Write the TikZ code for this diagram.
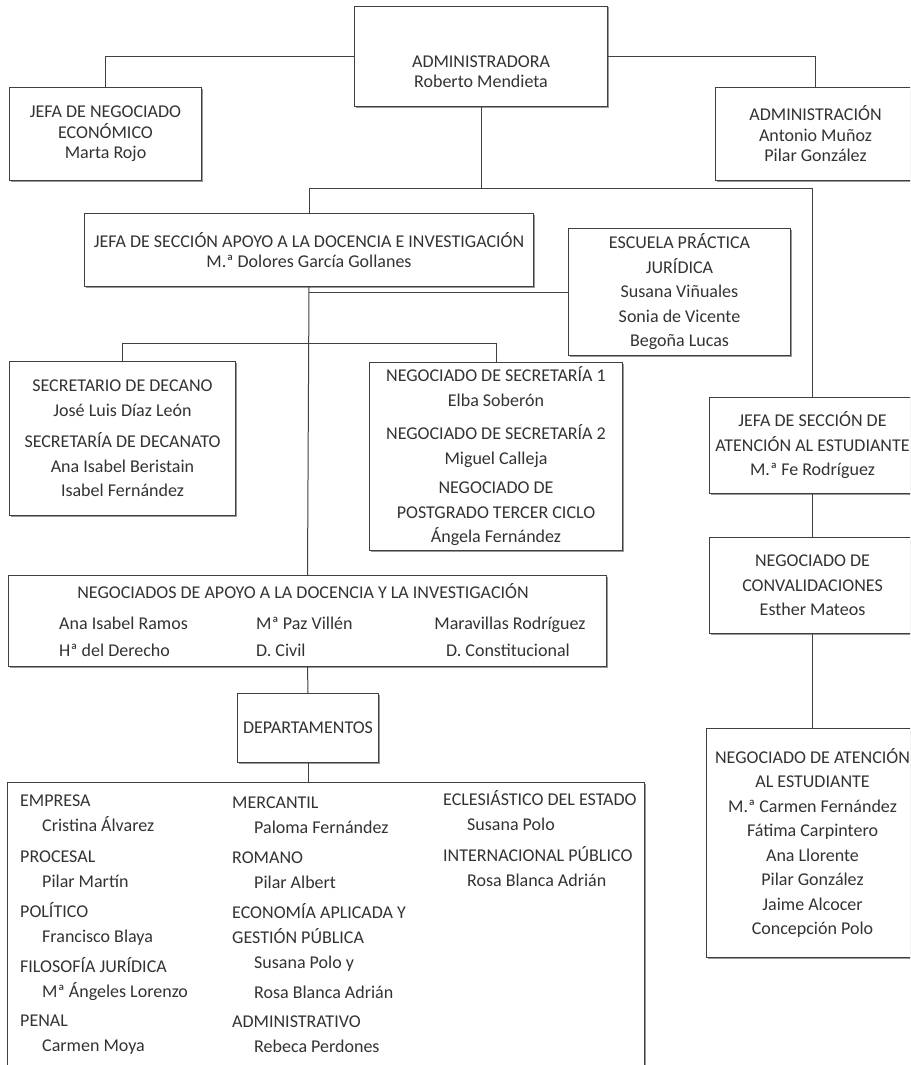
\documentclass[tikz,border=0pt]{standalone}
\usepackage{fontspec}
\setmainfont{Carlito}
\usetikzlibrary{shadows}

\begin{document}
\begin{tikzpicture}[x=1pt,y=-1pt,
  box/.style={draw=black!75, line width=1pt, fill=white, inner sep=0pt, anchor=north west,
    drop shadow={shadow xshift=1pt,shadow yshift=-1pt,fill=black!40,opacity=1}},
  txt/.style={text=black!80, align=center, font=\fontsize{18}{24.5}\selectfont},
  toptxt/.style={txt, font=\fontsize{18}{20.5}\selectfont},
  cell/.style={txt, inner sep=0pt},
  lst/.style={text=black!80, align=left, anchor=base west, inner sep=0pt, font=\fontsize{18}{25}\selectfont},
  link/.style={draw=black!75, line width=1pt}]

\useasboundingbox (0,0) rectangle (910,1065);
\fill[white] (0,0) rectangle (910,1065);
\clip (0,0) rectangle (910,1065);
%\draw[very thin,color=lightgray] (0,0) grid[step=50] (910,1065);

\coordinate (bus1) at (0,188);
\coordinate (bus2) at (0,343);

% top row
\node[box, minimum width=253pt, minimum height=100pt] (adm) at (354,6) {};
\node[toptxt, yshift=-15pt] (admtxt) at (adm.center) {ADMINISTRADORA\\Roberto Mendieta};
\node[box, toptxt, minimum width=192pt, minimum height=93pt] (econ) at (9,87)
  {JEFA DE NEGOCIADO\\ECONÓMICO\\Marta Rojo};
\node[box, toptxt, minimum width=200pt, minimum height=93pt] (admon) at (715,87)
  {ADMINISTRACIÓN\\Antonio Muñoz\\Pilar González};

% docencia e investigacion
\node[box, toptxt, minimum width=449pt, minimum height=73pt] (apoyo) at (84,213)
  {JEFA DE SECCIÓN APOYO A LA DOCENCIA E INVESTIGACIÓN\\M.ª Dolores García Gollanes};
\node[box, txt, minimum width=222pt, minimum height=127pt] (escuela) at (568,228)
  {ESCUELA PRÁCTICA\\JURÍDICA\\Susana Viñuales\\Sonia de Vicente\\Begoña Lucas};
\node[box, txt, minimum width=226pt, minimum height=154pt] (secdec) at (9,361)
  {SECRETARIO DE DECANO\\José Luis Díaz León\\[7pt]SECRETARÍA DE DECANATO\\Ana Isabel Beristain\\Isabel Fernández};
\node[box, txt, minimum width=253pt, minimum height=188pt] (negsec) at (369,362)
  {NEGOCIADO DE SECRETARÍA 1\\Elba Soberón\\[9pt]NEGOCIADO DE SECRETARÍA 2\\Miguel Calleja\\[5pt]NEGOCIADO DE\\POSTGRADO TERCER CICLO\\Ángela Fernández};

% atencion al estudiante
\node[box, txt, minimum width=206pt, minimum height=96pt] (jefaat) at (709,397)
  {JEFA DE SECCIÓN DE\\ATENCIÓN AL ESTUDIANTE\\M.ª Fe Rodríguez};
\node[box, txt, minimum width=206pt, minimum height=96pt] (conval) at (709,537)
  {NEGOCIADO DE\\CONVALIDACIONES\\Esther Mateos};
\node[box, txt, minimum width=212pt, minimum height=229pt] (negat) at (706,728)
  {NEGOCIADO DE ATENCIÓN\\AL ESTUDIANTE\\M.ª Carmen Fernández\\Fátima Carpintero\\Ana Llorente\\Pilar González\\Jaime Alcocer\\Concepción Polo};

% negociados de apoyo
\node[box, minimum width=598pt, minimum height=91pt] (negap) at (8,575) {};
\node[cell, anchor=base] (negaph) at (303,598) {NEGOCIADOS DE APOYO A LA DOCENCIA Y LA INVESTIGACIÓN};
\node[cell, anchor=base west] (ramos) at (59,629) {Ana Isabel Ramos};
\node[cell, anchor=base west] (villen) at (256,629) {Mª Paz Villén};
\node[cell, anchor=base] (maravillas) at (510,629) {Maravillas Rodríguez};
\node[cell, anchor=base west] (derecho) at (59,656) {Hª del Derecho};
\node[cell, anchor=base west] (civil) at (256,656) {D. Civil};
\node[cell, anchor=base] (constit) at (508,656) {D. Constitucional};

% departamentos (base = last line)
\node[box, txt, minimum width=141pt, minimum height=69pt] (dept) at (237,693) {DEPARTAMENTOS};
\node[box, minimum width=637pt, minimum height=320pt] (deptos) at (7,782) {};
\node[lst] (col1) at (20,1051) {EMPRESA\\\hspace*{22pt}Cristina Álvarez\\[6pt]PROCESAL\\\hspace*{22pt}Pilar Martín\\[5pt]POLÍTICO\\\hspace*{22pt}Francisco Blaya\\[5pt]FILOSOFÍA JURÍDICA\\\hspace*{22pt}Mª Ángeles Lorenzo\\[4pt]PENAL\\\hspace*{22pt}Carmen Moya};
\node[lst] (col2) at (232,1052) {MERCANTIL\\\hspace*{22pt}Paloma Fernández\\[5pt]ROMANO\\\hspace*{22pt}Pilar Albert\\[5pt]ECONOMÍA APLICADA Y\\GESTIÓN PÚBLICA\\\hspace*{22pt}Susana Polo y\\[5pt]\hspace*{22pt}Rosa Blanca Adrián\\[4pt]ADMINISTRATIVO\\\hspace*{22pt}Rebeca Perdones};
\node[lst] (col3) at (443,886) {ECLESIÁSTICO DEL ESTADO\\\hspace*{24pt}Susana Polo\\[6pt]INTERNACIONAL PÚBLICO\\\hspace*{24pt}Rosa Blanca Adrián};

% connectors
\draw[link] (adm.west) -| (econ.north);
\draw[link] (adm.east) -| (admon.north);
\draw[link] (adm.south) -- (adm.south |- bus1);
\draw[link] (apoyo.north) |- (jefaat.north |- bus1) -- (jefaat.north);
\draw[link] (apoyo.south) -- (negap.north);
\draw[link] (apoyo.south |- escuela.west) -- (escuela.west);
\draw[link] (secdec.north) |- (negsec.north |- bus2) -- (negsec.north);
\draw[link] (jefaat.south) -- (conval.north);
\draw[link] (conval.south) -- (negat.north);
\draw[link] (negap.south) -- (dept.north);
\draw[link] (dept.south) -- (dept.south |- deptos.north);

\end{tikzpicture}
\end{document}
